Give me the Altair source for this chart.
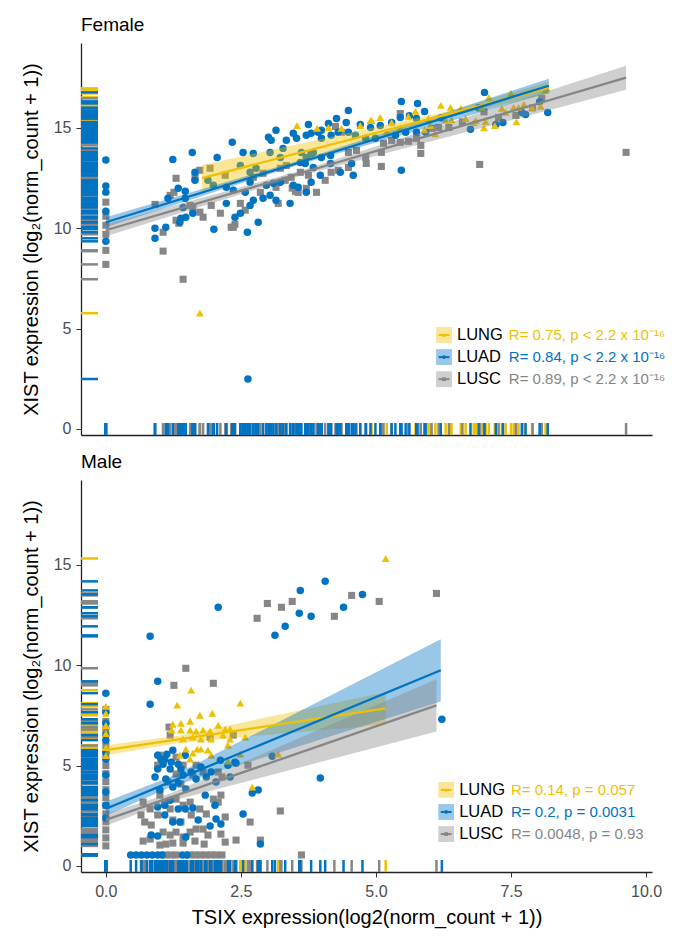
import altair as alt
import pandas as pd

GROUPS = ["LUNG", "LUAD", "LUSC"]
COLORS = ["#EFC000", "#0073C2", "#868686"]
SHAPES = ["triangle-up", "circle", "square"]

# ---------------- Female points ----------------
F_LUNG_X = [3.54, 3.91, 4.12, 4.36, 4.71, 4.90, 5.08, 5.29, 5.60, 5.73, 5.97, 6.01, 6.20, 6.29, 6.38,
            6.57, 6.66, 6.81, 6.85, 6.96, 7.03, 7.09, 7.20, 7.33, 7.40, 7.50, 7.55, 7.64, 7.74, 7.89,
            8.05, 8.14, 8.16, 1.74, 5.45, 5.90, 6.40, 4.92, 6.10, 7.00, 7.60, 5.20]
F_LUNG_Y = [15.12, 14.98, 15.02, 14.98, 15.12, 15.37, 15.52, 15.27, 15.57, 15.82, 15.47, 15.12, 16.12, 15.37, 16.02,
            15.97, 15.47, 15.27, 15.37, 16.02, 15.32, 16.52, 15.12, 15.97, 15.77, 16.72, 16.02, 16.02, 16.17, 16.02,
            16.07, 16.87, 16.97, 5.77, 15.00, 14.90, 15.40, 15.37, 14.70, 15.00, 15.30, 14.80]

F_LUAD_X = [0, 0, 0, 0, 0, 1.24, 1.60, 2.06, 2.34, 2.54, 2.73, 3.01, 3.06, 3.15, 3.34, 3.47, 3.53, 3.75, 3.80, 3.99,
            1.65, 1.65, 1.34, 1.47, 1.15, 1.47, 1.43, 1.61, 1.39, 1.37, 0.91, 0.91, 1.11, 1.48, 2.00, 2.23, 2.39, 2.49,
            2.62, 2.82, 2.67, 2.73, 2.91, 3.04, 3.15, 2.97, 3.10, 3.23, 3.41, 3.47, 3.56, 3.71, 3.80, 3.97, 2.58, 2.67,
            2.23, 2.36, 2.49, 2.67, 2.78, 3.04, 3.23, 3.28, 3.60, 3.71, 3.84, 1.89, 1.99, 7.01, 5.47, 5.77, 4.49, 4.27,
            4.45, 3.93, 4.12, 5.62, 5.90, 5.75, 4.71, 4.90, 5.08, 5.29, 5.45, 3.71, 3.99, 4.17, 4.30, 4.49, 4.62, 4.81,
            4.99, 5.36, 5.55, 5.75, 5.92, 3.62, 3.80, 3.99, 4.16, 3.69, 3.84, 4.16, 4.34, 4.55, 4.58, 5.47, 6.75, 7.22,
            7.35, 7.70, 7.77, 8.18, 2.63, 6.20, 6.90, 8.03]
F_LUAD_Y = [13.40, 12.10, 11.80, 10.85, 9.35, 13.43, 13.78, 13.53, 14.28, 13.78, 13.73, 14.53, 14.38, 14.88, 14.38,
            14.73, 14.48, 15.17, 14.73, 14.88, 12.79, 12.39, 11.99, 11.84, 11.49, 11.49, 11.04, 10.75, 10.50, 10.30,
            10.00, 9.50, 10.05, 10.55, 9.95, 11.24, 10.55, 10.75, 9.80, 10.30, 11.14, 11.39, 11.49, 11.64, 11.39, 12.14,
            12.24, 12.29, 11.24, 12.14, 12.04, 11.79, 12.29, 12.64, 11.79, 12.29, 12.04, 11.89, 13.13, 12.79, 12.99,
            13.78, 13.53, 13.98, 13.28, 13.53, 13.78, 12.39, 12.14, 16.77, 16.32, 16.22, 15.87, 15.47, 15.27, 14.78,
            15.22, 15.60, 15.82, 15.47, 15.17, 15.02, 15.12, 15.27, 15.52, 14.63, 14.48, 14.63, 14.78, 14.78, 14.63,
            14.48, 14.48, 14.63, 14.78, 14.78, 14.78, 13.78, 13.73, 13.53, 13.63, 13.23, 13.03, 13.23, 12.79, 13.23,
            12.64, 12.89, 14.93, 15.17, 15.27, 15.77, 15.67, 15.77, 2.49, 15.50, 16.00, 16.30]

F_LUSC_X = [0, 0, 0, 0, 0, 0, 1.30, 1.26, 1.19, 0.91, 1.06, 1.06, 1.43, 1.35, 1.30, 1.56, 1.61, 1.74, 1.80, 1.95,
            2.12, 2.36, 2.49, 2.58, 2.86, 3.15, 3.19, 3.45, 3.51, 3.71, 3.90, 1.93, 2.21, 3.43, 3.60, 3.23, 3.34, 2.73,
            2.91, 4.25, 4.36, 5.45, 5.45, 5.60, 5.75, 5.83, 5.83, 4.82, 5.10, 4.49, 4.64, 4.81, 5.10, 6.92, 4.06, 3.75,
            3.56, 4.30, 4.49, 4.17, 5.14, 5.29, 6.03, 6.16, 6.35, 7.27, 7.59, 8.07, 9.63, 1.74, 1.65, 3.32, 2.32, 2.39,
            6.60, 7.00, 7.90]
F_LUSC_Y = [11.30, 10.60, 10.15, 9.70, 8.90, 8.20, 12.49, 11.79, 11.64, 11.19, 9.80, 8.86, 7.46, 10.25, 10.40,
            11.14, 10.99, 10.80, 10.55, 11.14, 10.75, 10.05, 11.24, 10.90, 11.79, 12.04, 11.24, 12.00, 11.84, 11.99,
            11.79, 12.99, 12.64, 12.54, 12.79, 12.99, 13.13, 12.54, 12.74, 15.07, 14.78, 15.72, 14.28, 14.33, 14.48,
            14.13, 13.73, 13.23, 13.08, 13.78, 13.88, 13.53, 13.78, 13.18, 12.39, 12.64, 11.79, 12.89, 13.03, 12.79,
            14.23, 14.38, 14.98, 15.02, 15.02, 15.52, 15.62, 16.47, 13.78, 12.89, 12.54, 12.39, 10.05, 10.20,
            15.30, 15.80, 16.00]

# ---------------- Male points ----------------
M_LUNG_X = [0, 0, 0, 0, 0, 0, 5.18, 1.58, 1.32, 2.49, 1.74, 1.97, 1.24, 1.39, 1.56, 1.22, 1.39, 1.56, 1.67, 1.80,
            1.93, 2.08, 2.21, 2.30, 1.43, 1.61, 1.76, 1.95, 2.17, 2.30, 2.58, 1.48, 1.69, 1.76, 1.89, 2.26, 2.49,
            1.37, 1.56, 1.61, 1.95, 2.26, 3.19, 2.71]
M_LUNG_Y = [7.95, 7.60, 7.00, 6.60, 5.90, 5.50, 15.32, 8.76, 8.01, 8.11, 7.51, 7.61, 7.06, 7.11, 7.21, 6.77, 6.77,
            6.77, 6.72, 6.77, 6.72, 7.01, 6.82, 6.82, 6.32, 6.42, 6.32, 6.32, 6.52, 6.32, 6.42, 5.82, 5.82, 5.82,
            5.77, 6.02, 5.57, 5.52, 5.32, 5.62, 5.52, 5.22, 5.57, 3.93]

M_LUAD_X = [0, 0, 0, 0, 0, 0, 0, 0, 0, 0, 0, 0.82, 2.08, 3.60, 4.06, 3.58, 3.80, 4.40, 4.75, 3.13, 3.32, 0.96,
            0.82, 0.96, 1.06, 0.96, 1.13, 1.24, 1.02, 1.09, 0.91, 1.00, 1.11, 1.19, 1.21, 1.34, 1.39, 1.47, 1.24,
            1.34, 1.43, 1.48, 1.58, 1.67, 1.76, 1.86, 1.95, 2.04, 2.12, 2.26, 2.39, 2.30, 0.96, 1.09, 1.19, 1.34,
            1.09, 1.24, 1.37, 1.47, 1.61, 1.71, 1.84, 2.02, 2.13, 1.93, 2.04, 1.48, 0.84, 0.96, 2.54, 2.71, 2.82,
            2.86, 3.08, 3.97, 6.22, 2.41, 0.46, 0.56, 0.66, 0.76, 0.86, 0.96, 1.04, 1.42, 1.50]
M_LUAD_Y = [8.61, 7.66, 7.11, 6.52, 6.27, 5.67, 5.32, 4.53, 3.68, 3.03, 2.39, 11.44, 12.89, 13.73, 14.18, 12.59,
            12.44, 12.89, 13.53, 11.49, 11.94, 9.20, 8.06, 4.83, 5.07, 5.52, 5.57, 5.77, 5.32, 5.32, 4.43, 3.78,
            4.33, 4.83, 5.17, 5.07, 4.83, 5.52, 3.93, 4.13, 4.53, 3.83, 4.68, 4.33, 4.93, 4.43, 4.68, 4.18, 5.27,
            5.02, 5.17, 4.43, 2.94, 3.03, 3.28, 2.84, 2.54, 2.19, 2.19, 2.84, 2.89, 2.29, 3.53, 3.03, 2.09, 1.99,
            2.34, 1.44, 1.54, 1.49, 2.59, 3.63, 3.78, 1.09, 5.47, 4.38, 7.31, 5.12, 0.55, 0.55, 0.55, 0.55, 0.55,
            0.55, 0.55, 0.55, 0.55]

M_LUSC_X = [0, 0, 0, 0, 0, 0, 0, 0, 0, 0, 0, 0, 0, 0, 0, 0, 2.99, 3.25, 3.45, 2.80, 4.23, 4.55, 5.06, 6.12,
            1.48, 1.26, 1.99, 1.17, 1.19, 1.30, 1.00, 0.96, 1.43, 1.30, 1.15, 1.39, 1.61, 1.67, 1.80, 2.08, 2.15,
            2.63, 2.36, 1.93, 0.69, 0.82, 1.00, 1.09, 0.96, 1.19, 1.30, 1.43, 1.24, 1.39, 1.58, 1.56, 1.74, 1.86,
            1.99, 2.13, 2.21, 2.08, 0.65, 0.72, 0.84, 1.06, 1.19, 1.30, 1.43, 1.56, 1.67, 1.80, 1.89, 2.13, 0.69,
            0.82, 1.00, 1.11, 1.24, 1.43, 1.65, 1.82, 2.21, 2.41, 2.86, 2.67, 3.23, 1.10, 1.20, 1.30, 1.55, 1.65,
            1.75, 1.85, 1.95, 2.05, 2.15, 3.62]
M_LUSC_Y = [7.80, 7.20, 6.80, 6.00, 5.60, 5.00, 4.60, 4.20, 3.80, 3.40, 3.00, 2.60, 2.20, 1.80, 1.40, 1.00,
            13.08, 12.89, 13.18, 12.34, 12.44, 13.48, 13.18, 13.58, 9.85, 9.00, 9.10, 6.92, 6.52, 5.42, 5.52, 5.02,
            5.02, 4.58, 4.18, 4.08, 4.53, 5.02, 4.68, 4.68, 4.43, 5.02, 6.52, 6.42, 3.18, 2.84, 3.53, 3.18, 2.54,
            2.84, 3.33, 3.03, 2.29, 2.19, 2.54, 3.18, 2.84, 2.59, 3.33, 3.53, 2.44, 3.18, 2.54, 2.19, 2.04, 1.69,
            1.54, 1.69, 1.44, 1.69, 1.84, 1.84, 1.54, 1.59, 1.24, 1.34, 1.04, 1.09, 1.14, 1.14, 1.24, 1.09, 1.19,
            1.29, 1.29, 2.19, 2.74, 0.55, 0.55, 0.55, 0.55, 0.55, 0.55, 0.55, 0.55, 0.55, 0.55, 0.55]

# ---------------- Regression fits (x, fitted y, lower, upper) ----------------
F_FIT_X = {"LUNG": [1.78, 6.30, 8.20], "LUAD": [0.0, 3.60, 8.20], "LUSC": [0.0, 3.60, 9.63]}
F_FIT_Y = {"LUNG": [12.50, 15.66, 17.00], "LUAD": [10.30, 13.29, 17.10], "LUSC": [9.90, 12.74, 17.50]}
F_FIT_LO = {"LUNG": [11.85, 15.51, 16.70], "LUAD": [10.05, 13.19, 16.75], "LUSC": [9.60, 12.62, 16.90]}
F_FIT_HI = {"LUNG": [13.15, 15.81, 17.30], "LUAD": [10.55, 13.39, 17.45], "LUSC": [10.20, 12.86, 18.10]}

M_FIT_X = {"LUNG": [0.0, 1.40, 5.18], "LUAD": [0.0, 1.20, 6.20], "LUSC": [0.0, 1.20, 6.12]}
M_FIT_Y = {"LUNG": [5.77, 6.33, 7.85], "LUAD": [2.85, 4.19, 9.75], "LUSC": [2.30, 3.42, 8.00]}
M_FIT_LO = {"LUNG": [5.52, 6.15, 7.05], "LUAD": [2.50, 3.94, 8.20], "LUSC": [2.00, 3.22, 6.70]}
M_FIT_HI = {"LUNG": [6.02, 6.51, 8.65], "LUAD": [3.20, 4.44, 11.30], "LUSC": [2.60, 3.62, 9.30]}

# ---------------- Legend texts ----------------
F_RTEXT = ["R= 0.75, p < 2.2 x 10\u207b\u00b9\u2076", "R= 0.84, p < 2.2 x 10\u207b\u00b9\u2076",
           "R= 0.89, p < 2.2 x 10\u207b\u00b9\u2076"]
M_RTEXT = ["R= 0.14, p = 0.057", "R= 0.2, p = 0.0031", "R= 0.0048, p = 0.93"]

Y_TICKS = [0, 5, 10, 15]
X_TICKS = [0, 2.5, 5, 7.5, 10]
Y_TITLE = "XIST expression (log\u2082(norm_count + 1))"
X_TITLE = "TSIX expression(log2(norm_count + 1))"

FONT = "Liberation Sans"
XDOM = [-0.46, 10.11]
YDOM = [-0.3, 19.23]
W, H = 571, 392
RUG_ORDER = ["LUNG", "LUSC", "LUAD"]


def points_df(xs, ys, order):
    rows = []
    for g in order:
        for a, b in zip(xs[g], ys[g]):
            rows.append({"tsix": a, "xist": b, "group": g})
    return pd.DataFrame(rows)


def fit_df(fx, fy, flo, fhi):
    rows = []
    for g in GROUPS:
        for a, b, c, d in zip(fx[g], fy[g], flo[g], fhi[g]):
            rows.append({"x": a, "y": b, "lo": c, "hi": d, "group": g})
    return pd.DataFrame(rows)


def panel(title, xs, ys, fdf, rtexts, leg_x, leg_y0, male):
    pdf = points_df(xs, ys, ["LUSC", "LUAD", "LUNG"])
    rdf = points_df(xs, ys, RUG_ORDER)
    xsc = alt.Scale(domain=XDOM, nice=False, zero=False)
    ysc = alt.Scale(domain=YDOM, nice=False, zero=False)
    if male:
        xaxis = alt.Axis(values=X_TICKS, format=".1f", title=X_TITLE)
    else:
        xaxis = alt.Axis(labels=False, ticks=False, title=None)
    yaxis = alt.Axis(values=Y_TICKS, title=Y_TITLE)
    color = alt.Color("group:N", scale=alt.Scale(domain=GROUPS, range=COLORS), legend=None)
    shape = alt.Shape("group:N", scale=alt.Scale(domain=GROUPS, range=SHAPES), legend=None)
    size = alt.Size("group:N", scale=alt.Scale(domain=GROUPS, range=[62, 50, 46]), legend=None)

    pts = alt.Chart(pdf).mark_point(filled=True, opacity=1).encode(
        x=alt.X("tsix:Q", scale=xsc, axis=xaxis),
        y=alt.Y("xist:Q", scale=ysc, axis=yaxis),
        color=color, shape=shape, size=size)
    rug_y = alt.Chart(rdf).mark_rule(strokeWidth=2.5).encode(
        y="xist:Q", x=alt.value(0), x2=alt.value(17), color=color)
    rug_x = alt.Chart(rdf).mark_rule(strokeWidth=2.5).encode(
        x="tsix:Q", y=alt.value(H), y2=alt.value(H - 12), color=color)
    band = alt.Chart(fdf).mark_area(opacity=0.4).encode(
        x="x:Q", y="lo:Q", y2="hi:Q", color=color, detail="group:N")
    line = alt.Chart(fdf).mark_line(strokeWidth=2.3).encode(
        x="x:Q", y="y:Q", color=color, detail="group:N")

    ldf = pd.DataFrame({"group": GROUPS, "rtext": rtexts,
                        "ly": [leg_y0 - 1.1 * i for i in range(3)]})
    sw = alt.Chart(ldf).mark_point(shape="square", filled=True, size=250, opacity=0.4).encode(
        x=alt.datum(leg_x), y="ly:Q", color=color)
    sw_line = alt.Chart(ldf).mark_rule(strokeWidth=2).encode(
        x=alt.datum(leg_x - 0.1), x2=alt.datum(leg_x + 0.1), y="ly:Q", color=color)
    sw_pt = alt.Chart(ldf).mark_point(filled=True, opacity=1, size=14).encode(
        x=alt.datum(leg_x), y="ly:Q", color=color, shape=shape)
    lab = alt.Chart(ldf).mark_text(align="left", baseline="middle", fontSize=16.5, font=FONT,
                                   color="black").encode(
        x=alt.datum(leg_x + 0.24), y="ly:Q", text="group:N")
    rtx = alt.Chart(ldf).mark_text(align="left", baseline="middle", fontSize=15, font=FONT).encode(
        x=alt.datum(leg_x + 1.2), y="ly:Q", text="rtext:N", color=color)

    return alt.layer(pts, rug_y, rug_x, band, line, sw, sw_line, sw_pt, lab, rtx).properties(
        width=W, height=H,
        title=alt.TitleParams(title, anchor="start", frame="group", fontSize=19,
                              fontWeight="normal", font=FONT, color="black", offset=8))


female = panel("Female",
               {"LUNG": F_LUNG_X, "LUAD": F_LUAD_X, "LUSC": F_LUSC_X},
               {"LUNG": F_LUNG_Y, "LUAD": F_LUAD_Y, "LUSC": F_LUSC_Y},
               fit_df(F_FIT_X, F_FIT_Y, F_FIT_LO, F_FIT_HI), F_RTEXT, 6.26, 4.68, False)
male = panel("Male",
             {"LUNG": M_LUNG_X, "LUAD": M_LUAD_X, "LUSC": M_LUSC_X},
             {"LUNG": M_LUNG_Y, "LUAD": M_LUAD_Y, "LUSC": M_LUSC_Y},
             fit_df(M_FIT_X, M_FIT_Y, M_FIT_LO, M_FIT_HI), M_RTEXT, 6.30, 3.79, True)

chart = alt.vconcat(female, male, spacing=16).properties(
    padding={"left": 13, "top": 8, "right": 0, "bottom": 4}
).configure_view(stroke=None).configure_axis(
    grid=False, domainColor="#222222", domainWidth=1.3, tickColor="#333333", tickSize=5,
    labelColor="#4D4D4D", labelFontSize=16, labelFont=FONT, labelPadding=3,
    titleFont=FONT, titleFontSize=20, titleFontWeight="normal", titleColor="black"
).configure_axisY(titlePadding=12, labelPadding=5).configure_axisX(labelPadding=6, titlePadding=8)

chart.save("out.html", embed_options={"renderer": "svg", "actions": False})
